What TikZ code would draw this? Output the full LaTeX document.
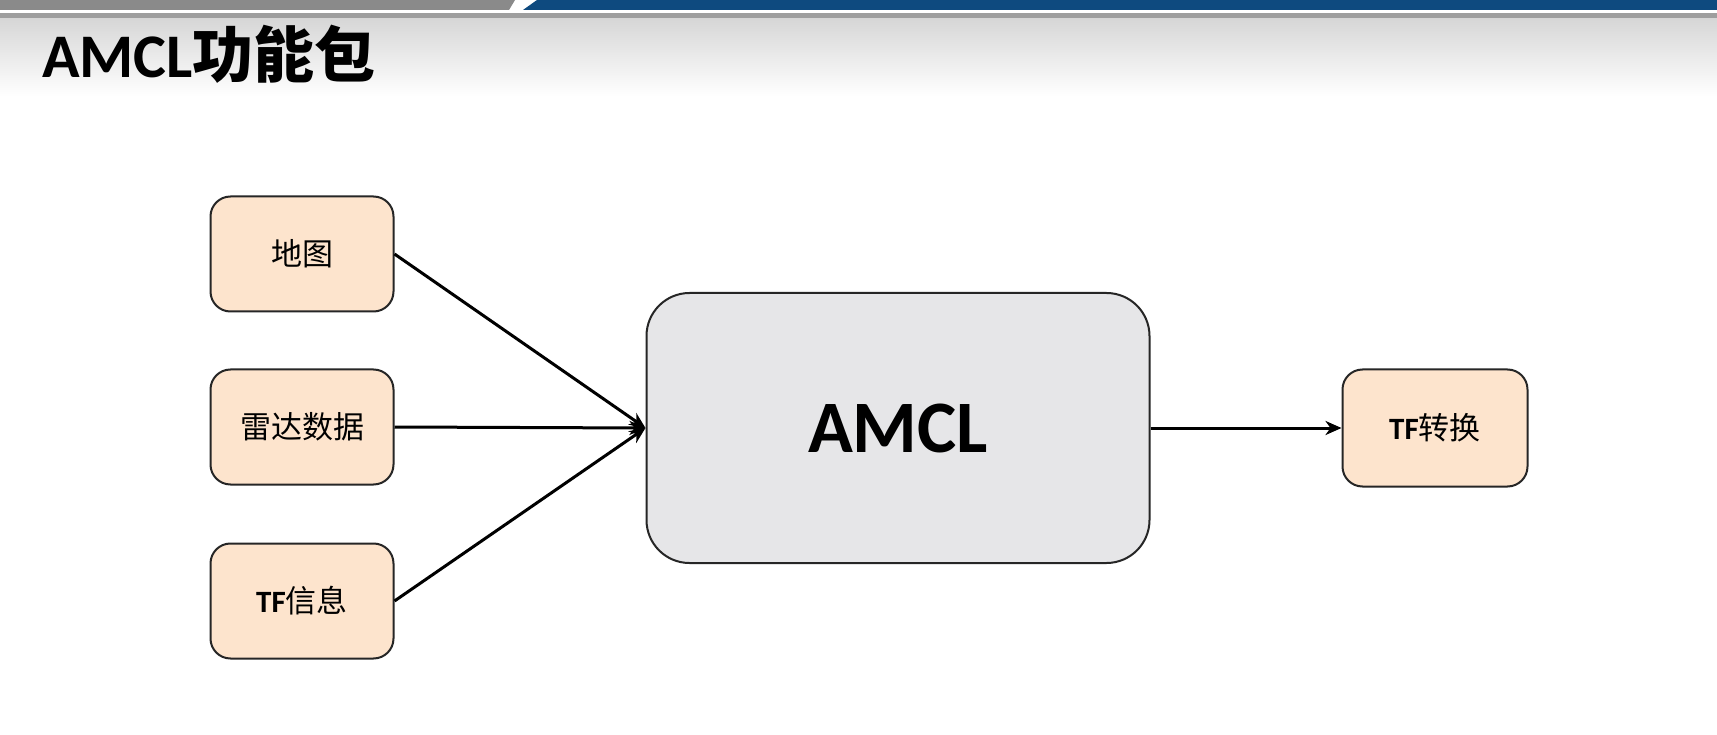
\documentclass[tikz,border=0pt]{standalone}
\usepackage{fontspec}
\setmainfont{Carlito}
\newfontfamily\cjk{Noto Sans CJK SC}
\newfontfamily\cjkbold{Noto Sans CJK SC Bold}
\usetikzlibrary{arrows.meta}
\definecolor{peach}{HTML}{FDE4CD}
\definecolor{coregray}{HTML}{E6E6E8}
\definecolor{barblue}{HTML}{0E4A7F}
\definecolor{bargray}{HTML}{8A8A8A}
\tikzset{
  inbox/.style={draw=black!85,line width=2pt,fill=peach,rounded corners=20pt,
    minimum width=183pt,minimum height=115pt,inner sep=0pt,
    font=\fontsize{31}{34}\selectfont},
  corebox/.style={draw=black!85,line width=2pt,fill=coregray,rounded corners=43pt,
    minimum width=503pt,minimum height=270pt,inner sep=0pt,
    font=\fontsize{74}{80}\selectfont\bfseries},
  arr/.style={line width=3pt,-{Stealth[length=16pt,width=14pt,inset=5pt]}}
}
\begin{document}
\begin{tikzpicture}[x=1pt,y=-1pt]
	\useasboundingbox (0,0) rectangle (1717,735);
	\fill[white] (0,0) rectangle (1717,735);
	% title bar
	\shade[top color=black!16,bottom color=white] (0,18) rectangle (1717,96);
	\fill[bargray] (0,0) -- (515,0) -- (509,10) -- (0,10) -- cycle;
	\fill[barblue] (537,0) -- (1717,0) -- (1717,10) -- (523,10) -- cycle;
	\fill[black!38] (0,13) rectangle (1717,18);
	\node[anchor=base west,inner sep=0pt] (title) at (42,78)
		{\fontsize{62}{64}\selectfont\bfseries AMCL\cjkbold\fontsize{61}{64}\selectfont 功能包};
	% inputs
	\node[inbox] (map) at (302,254) {\cjk 地图};
	\node[inbox] (laser) at (302,427) {\cjk 雷达数据};
	\node[inbox] (tfin) at (302,601) {\textbf{TF}\cjk 信息};
	% core
	\node[corebox] (amcl) at (898,428) {AMCL};
	% output
	\node[inbox,minimum width=185pt,minimum height=117pt] (tfout) at (1435,428) {\textbf{TF}\cjk 转换};
	% connectors
	\draw[arr] (map.east) -- (amcl.west);
	\draw[arr] (laser.east) -- (amcl.west);
	\draw[arr] (tfin.east) -- (amcl.west);
	\draw[arr] (amcl.east) -- (tfout.west);
\end{tikzpicture}
\end{document}
